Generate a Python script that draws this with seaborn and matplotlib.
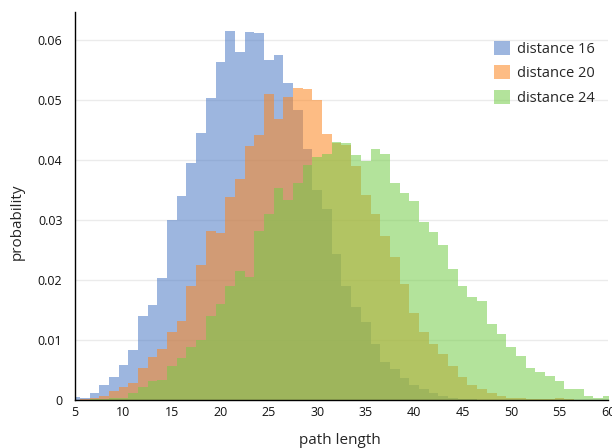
import numpy as np
import pandas as pd
import seaborn as sns
import matplotlib.pyplot as plt

# path length bins (integer centres, width 1)
lengths = np.arange(5, 61)
edges = [x + 0.5 for x in range(4, 61)]

dist16 = [0.0005, 0.0003, 0.0012, 0.0025, 0.0039, 0.0058, 0.0083, 0.0141,
          0.0158, 0.0203, 0.0300, 0.0340, 0.0396, 0.0446, 0.0503, 0.0564,
          0.0615, 0.0580, 0.0614, 0.0612, 0.0567, 0.0576, 0.0528, 0.0484,
          0.0418, 0.0351, 0.0318, 0.0243, 0.0191, 0.0155, 0.0131, 0.0093,
          0.0064, 0.0051, 0.0036, 0.0025, 0.0018, 0.0011, 0.0006, 0.0003,
          0.0002, 0.0001, 0, 0, 0, 0, 0, 0, 0, 0, 0, 0, 0, 0, 0, 0]
dist20 = [0, 0.0002, 0.0004, 0.0007, 0.0015, 0.0022, 0.0029, 0.0054,
          0.0072, 0.0085, 0.0114, 0.0132, 0.0190, 0.0225, 0.0282, 0.0279,
          0.0339, 0.0368, 0.0423, 0.0442, 0.0511, 0.0469, 0.0505, 0.0521,
          0.0518, 0.0500, 0.0444, 0.0429, 0.0426, 0.0390, 0.0342, 0.0311,
          0.0273, 0.0239, 0.0194, 0.0146, 0.0114, 0.0094, 0.0077, 0.0057,
          0.0039, 0.0025, 0.0018, 0.0011, 0.0007, 0.0003, 0.0003, 0.0001,
          0.0001, 0.0001, 0.0003, 0.0001, 0, 0, 0, 0]
dist24 = [0, 0, 0.0001, 0.0002, 0.0003, 0.0004, 0.0012, 0.0022,
          0.0031, 0.0034, 0.0056, 0.0070, 0.0088, 0.0101, 0.0140, 0.0160,
          0.0190, 0.0215, 0.0206, 0.0282, 0.0311, 0.0353, 0.0334, 0.0362,
          0.0392, 0.0406, 0.0410, 0.0430, 0.0428, 0.0408, 0.0398, 0.0418,
          0.0411, 0.0362, 0.0346, 0.0332, 0.0297, 0.0281, 0.0259, 0.0219,
          0.0191, 0.0172, 0.0166, 0.0127, 0.0111, 0.0089, 0.0073, 0.0054,
          0.0047, 0.0040, 0.0031, 0.0018, 0.0018, 0.0007, 0.0004, 0.0007]

series = [("distance 16", dist16, "#4d7ac5"),
          ("distance 20", dist20, "#fd851f"),
          ("distance 24", dist24, "#75cc49")]

sns.set_style("white")
plt.rcParams['font.family'] = ['Open Sans', 'DejaVu Sans']

fig = plt.figure(figsize=(6.12, 4.48), dpi=100)
ax = fig.add_axes([0.1225, 0.107, 0.871, 0.866])

for name, vals, col in series:
    df = pd.DataFrame({"length": lengths, "prob": vals})
    sns.histplot(data=df, x="length", weights="prob", bins=edges, element="step",
                 fill=True, color=col, alpha=0.55, linewidth=0, label=name, ax=ax)

ax.set_xlim(5, 60)
ax.set_ylim(0, 0.0647)
ax.set_xticks(range(5, 61, 5))
ax.set_yticks([0, 0.01, 0.02, 0.03, 0.04, 0.05, 0.06])
ax.set_yticklabels(["0", "0.01", "0.02", "0.03", "0.04", "0.05", "0.06"])
ax.yaxis.grid(True, color="#ebebeb", linewidth=1)
ax.set_axisbelow(True)
ax.tick_params(length=0, labelsize=9, colors="#111111")
ax.tick_params(axis="y", pad=9)
ax.tick_params(axis="x", pad=4)

for s in ["top", "right"]:
    ax.spines[s].set_visible(False)
for s in ["left", "bottom"]:
    ax.spines[s].set_color("black")
    ax.spines[s].set_linewidth(1)

ax.set_xlabel("path length", fontsize=11)
ax.set_ylabel("probability", fontsize=11)
ax.xaxis.set_label_coords(0.497, -0.086)
ax.yaxis.set_label_coords(-0.094, 0.46)

ax.legend(loc="upper right", bbox_to_anchor=(1.0, 0.96), frameon=False,
          fontsize=10.5, handlelength=1.1, handleheight=1.1, labelspacing=0.6,
          handletextpad=0.5)

fig.savefig("out.png", dpi=100)
